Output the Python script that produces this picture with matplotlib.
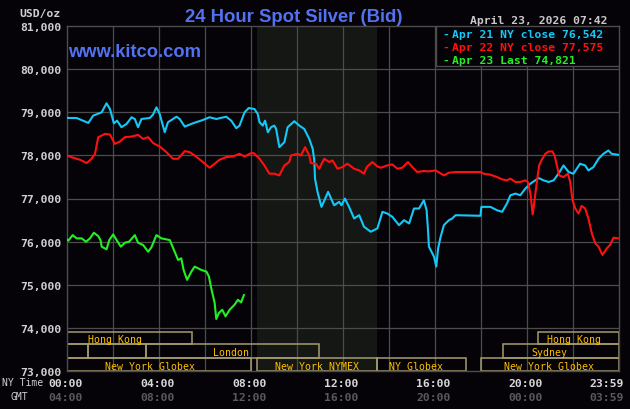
import matplotlib
matplotlib.use('Agg')
import matplotlib.pyplot as plt
from matplotlib.patches import Rectangle
import matplotlib.transforms as mtransforms

# ---------------- data ----------------
cyan_h = [0, 0.43, 0.94, 1.15, 1.52, 1.73, 1.88, 2.05, 2.19, 2.38,
          2.6, 2.82, 2.96, 3.1, 3.25, 3.61, 3.75, 3.9, 4.04, 4.26,
          4.4, 4.77, 4.91, 5.13, 5.49, 5.92, 6.21, 6.5, 6.93, 7.15,
          7.37, 7.51, 7.73, 7.91, 8.16, 8.30, 8.38, 8.52, 8.62, 8.74,
          8.88, 9.02, 9.1, 9.24, 9.46, 9.6, 9.89, 10.11, 10.32, 10.54,
          10.69, 10.76, 10.79, 10.9, 11.07, 11.2, 11.36, 11.62, 11.84, 11.94,
          12.09, 12.27, 12.49, 12.71, 12.92, 13.21, 13.5, 13.72, 13.93, 14.15,
          14.44, 14.66, 14.88, 15.09, 15.31, 15.52, 15.64, 15.7, 15.74, 15.96,
          16.06, 16.14, 16.25, 16.39, 16.61, 16.75, 16.9, 17.98, 18.02, 18.41,
          18.7, 18.92, 19.13, 19.28, 19.5, 19.71, 19.93, 20.15, 20.51, 20.72,
          20.94, 21.16, 21.37, 21.59, 21.81, 22.02, 22.31, 22.53, 22.67, 22.89,
          23.11, 23.32, 23.54, 23.68, 23.98]
cyan_v = [78868, 78867, 78752, 78921, 78999, 79207, 79075, 78745, 78805, 78653,
          78729, 78884, 78844, 78653, 78844, 78867, 78944, 79114, 78960, 78537,
          78768, 78897, 78844, 78667, 78745, 78821, 78884, 78844, 78897, 78805,
          78630, 78690, 78999, 79098, 79075, 78960, 78768, 78690, 78805, 78537,
          78653, 78690, 78614, 78191, 78307, 78653, 78791, 78690, 78614, 78383,
          78152, 77882, 77460, 77153, 76806, 76959, 77153, 76843, 76922, 76843,
          76998, 76806, 76537, 76613, 76345, 76230, 76306, 76691, 76652, 76576,
          76382, 76497, 76421, 76767, 76767, 76959, 76728, 76267, 75883, 75652,
          75422, 75844, 76114, 76382, 76497, 76536, 76613, 76599, 76806, 76806,
          76728, 76691, 76883, 77075, 77114, 77075, 77229, 77344, 77475, 77421,
          77383, 77421, 77575, 77767, 77614, 77575, 77806, 77767, 77651, 77729,
          77921, 78036, 78113, 78036, 78013]

red_h = [0, 0.29, 0.58, 0.87, 1.08, 1.23, 1.37, 1.52, 1.66, 1.88,
         2.09, 2.31, 2.53, 2.82, 3.1, 3.32, 3.54, 3.76, 4.04, 4.33,
         4.62, 4.84, 5.13, 5.34, 5.56, 5.92, 6.21, 6.43, 6.64, 6.93,
         7.22, 7.51, 7.73, 8.02, 8.13, 8.38, 8.59, 8.81, 9.02, 9.24,
         9.46, 9.67, 9.75, 10.03, 10.18, 10.36, 10.54, 10.61, 10.83, 10.97,
         11.19, 11.41, 11.55, 11.77, 11.98, 12.2, 12.49, 12.71, 12.92, 13.04,
         13.28, 13.5, 13.65, 13.93, 14.15, 14.37, 14.58, 14.83, 15.02, 15.23,
         15.52, 15.74, 16.03, 16.39, 16.61, 16.9, 17.98, 18.12, 18.41, 18.7,
         18.92, 19.13, 19.28, 19.5, 19.71, 19.93, 20.04, 20.15, 20.25, 20.33,
         20.43, 20.53, 20.65, 20.8, 20.94, 21.11, 21.2, 21.3, 21.4, 21.59,
         21.78, 21.88, 21.98, 22.1, 22.24, 22.38, 22.53, 22.67, 22.82, 22.97,
         23.11, 23.28, 23.47, 23.61, 23.76, 23.98]
red_v = [77998, 77944, 77898, 77822, 77921, 78036, 78422, 78459, 78498, 78482,
         78267, 78320, 78422, 78436, 78475, 78383, 78422, 78283, 78205, 78076,
         77921, 77921, 78099, 78076, 77998, 77845, 77713, 77806, 77898, 77960,
         77974, 78036, 77974, 78052, 78052, 77921, 77767, 77575, 77575, 77536,
         77767, 77845, 77998, 78036, 77998, 78191, 77998, 77822, 77806, 77690,
         77921, 77845, 77883, 77690, 77729, 77806, 77690, 77651, 77575, 77729,
         77845, 77744, 77713, 77767, 77790, 77690, 77713, 77845, 77729, 77614,
         77637, 77628, 77651, 77536, 77598, 77614, 77614, 77575, 77552, 77498,
         77444, 77421, 77460, 77383, 77383, 77421, 77383, 77114, 76629, 76959,
         77383, 77767, 77905, 78036, 78090, 78090, 77998, 77767, 77536, 77498,
         77575, 77383, 76959, 76767, 76652, 76829, 76767, 76537, 76190, 75960,
         75883, 75690, 75844, 75921, 76091, 76075]

green_h = [0, 0.07, 0.26, 0.43, 0.65, 0.84, 1.01, 1.18, 1.37, 1.47,
           1.52, 1.73, 1.85, 2.02, 2.17, 2.35, 2.53, 2.71, 2.96, 3.1,
           3.32, 3.54, 3.68, 3.9, 4.12, 4.48, 4.69, 4.84, 4.98, 5.08,
           5.23, 5.42, 5.56, 5.85, 6.07, 6.18, 6.28, 6.43, 6.5, 6.61,
           6.76, 6.9, 7.08, 7.29, 7.44, 7.58, 7.7]
green_v = [76052, 76022, 76151, 76075, 76075, 75998, 76075, 76206, 76128, 76036,
           75883, 75821, 76036, 76167, 76036, 75883, 75975, 75998, 76151, 75975,
           75921, 75767, 75867, 76151, 76075, 76036, 75767, 75575, 75613, 75343,
           75113, 75306, 75421, 75343, 75306, 75191, 74921, 74575, 74206, 74344,
           74420, 74267, 74420, 74535, 74651, 74591, 74760]

legend_labels = ["Apr 21 NY close 76,542", "Apr 22 NY close 77,575", "Apr 23 Last 74,821"]

y_ticks = [73000, 74000, 75000, 76000, 77000, 78000, 79000, 80000, 81000]
y_tick_labels = ["73,000", "74,000", "75,000", "76,000", "77,000", "78,000",
                 "79,000", "80,000", "81,000"]
x_ticks = [0, 4, 8, 12, 16, 20, 24]
ny_labels = ["00:00", "04:00", "08:00", "12:00", "16:00", "20:00", "23:59"]
gmt_labels = ["04:00", "08:00", "12:00", "16:00", "20:00", "00:00", "03:59"]

session_names = ['Hong Kong', 'Hong Kong', '', '', 'London', 'Sydney',
                 'New York Globex', 'New York NYMEX', 'NY Globex', 'New York Globex']
session_row = [0, 0, 1, 1, 1, 1, 2, 2, 2, 2]
session_start = [0, 20.5, 0, 0.94, 3.46, 18.98, 0, 8.25, 13.5, 18.02]
session_end = [5.46, 24, 0.94, 3.46, 10.96, 24, 8.02, 13.5, 17.35, 24]
session_label_at = [2.1, 22.05, None, None, 7.14, 20.97, 3.63, 10.88, 15.19, 20.97]
comex_start, comex_end = 8.25, 13.5

# ---------------- style ----------------
W, H = 630, 410
BG = '#050308'
GRID = '#4c4c4c'
CYAN = '#14c8f8'
RED = '#ff1010'
GREEN = '#22f022'
BLUE = '#5272f0'
MONO = 'DejaVu Sans Mono'

fig = plt.figure(figsize=(W / 100, H / 100), dpi=100, facecolor=BG)
L, R, T, B = 66.7, 619.0, 27.0, 372.0
ax = fig.add_axes([L / W, 1 - B / H, (R - L) / W, (B - T) / H])
ax.set_facecolor(BG)
ax.set_xlim(0, 24)
ax.set_ylim(73000, 81000)
ax.set_xticks([])
ax.set_yticks([])
for s in ax.spines.values():
    s.set_color(GRID)
    s.set_linewidth(1.0)

ax.axvspan(comex_start, comex_end, color='#141714', zorder=0, lw=0)
for x in range(2, 24, 2):
    ax.axvline(x, color=GRID, lw=0.9, zorder=1)
for y in range(74000, 81000, 1000):
    ax.axhline(y, color=GRID, lw=0.9, zorder=1)

# session boxes
row_edges = [73900, 73620, 73300, 73000]
for name, r, s0, s1, lab in zip(session_names, session_row, session_start,
                                session_end, session_label_at):
    top, bot = row_edges[r], row_edges[r + 1]
    ax.add_patch(Rectangle((s0, bot), s1 - s0, top - bot, fill=False,
                           edgecolor='#a49c6c', lw=1.1, zorder=2))
    if name:
        ax.text(lab, (top + bot) / 2, name, ha='center', va='center_baseline',
                fontsize=7.1, family=MONO, color='#ffc000', zorder=3)

# series
ax.plot(cyan_h, cyan_v, color=CYAN, lw=1.5, zorder=4)
ax.plot(red_h, red_v, color=RED, lw=1.5, zorder=5)
ax.plot(green_h, green_v, color=GREEN, lw=1.5, zorder=6)

# legend box
ax.add_patch(Rectangle(((435.7 - L) / (R - L), 1 - (66.7 - T) / (B - T)),
                       1 - (435.7 - L) / (R - L), (66.7 - T) / (B - T),
                       transform=ax.transAxes, facecolor=BG, edgecolor=GRID,
                       lw=1.0, zorder=7))
leg_colors = [CYAN, RED, GREEN]
leg_base = [38, 51, 64]
for lab, col, yb in zip(legend_labels, leg_colors, leg_base):
    fig.text(442 / W, 1 - yb / H, '-', color=col, fontsize=8.2, family=MONO,
             weight='bold', ha='left', va='baseline')
    fig.text(451.5 / W, 1 - yb / H, lab, color=col, fontsize=8.2, family=MONO,
             weight='bold', ha='left', va='baseline')

# y tick labels
ytrans = mtransforms.blended_transform_factory(ax.transAxes, ax.transData)
for v, lab in zip(y_ticks, y_tick_labels):
    ax.annotate(lab, xy=(0, v), xycoords=ytrans, xytext=(-4.0, 0),
                textcoords='offset points', ha='right', va='center_baseline',
                fontsize=8.2, family=MONO, weight='bold', color='#d0d0d0',
                annotation_clip=False)

# x tick labels
xtrans = mtransforms.blended_transform_factory(ax.transData, ax.transAxes)
for h, a, b in zip(x_ticks, ny_labels, gmt_labels):
    ha = 'right' if h == 24 else 'center'
    dx = 3.6 if h == 24 else -1.0
    ax.annotate(a, xy=(h, 0), xycoords=xtrans, xytext=(dx, -10.6),
                textcoords='offset points', ha=ha, va='baseline', fontsize=8.2,
                family=MONO, weight='bold', color='#d8d8d8', annotation_clip=False)
    ax.annotate(b, xy=(h, 0), xycoords=xtrans, xytext=(dx, -21.0),
                textcoords='offset points', ha=ha, va='baseline', fontsize=8.2,
                family=MONO, weight='bold', color='#5a5a5a', annotation_clip=False)

fig.text(2.5 / W, 1 - 386.5 / H, 'NY Time', color='#d0d0d0', fontsize=7.0,
         family=MONO, ha='left', va='baseline')
fig.text(10.5 / W, 1 - 400 / H, 'GMT', color='#d0d0d0', fontsize=7.0,
         family=MONO, ha='left', va='baseline')

# header texts
fig.text(294 / W, 1 - 22 / H, '24 Hour Spot Silver (Bid)', color=BLUE,
         fontsize=13.3, family='Liberation Sans', weight='bold',
         ha='center', va='baseline')
fig.text(68 / W, 1 - 57 / H, 'www.kitco.com', color=BLUE, fontsize=13.2,
         family='Liberation Sans', weight='bold', ha='left', va='baseline')
fig.text(608 / W, 1 - 24 / H, 'April 23, 2026 07:42', color='#c8c8c8',
         fontsize=8.2, family=MONO, weight='bold', ha='right', va='baseline')
fig.text(61 / W, 1 - 17 / H, 'USD/oz', color='#d0d0d0', fontsize=8.2,
         family=MONO, weight='bold', ha='right', va='baseline')

fig.savefig('out.png', dpi=100, facecolor=BG)
